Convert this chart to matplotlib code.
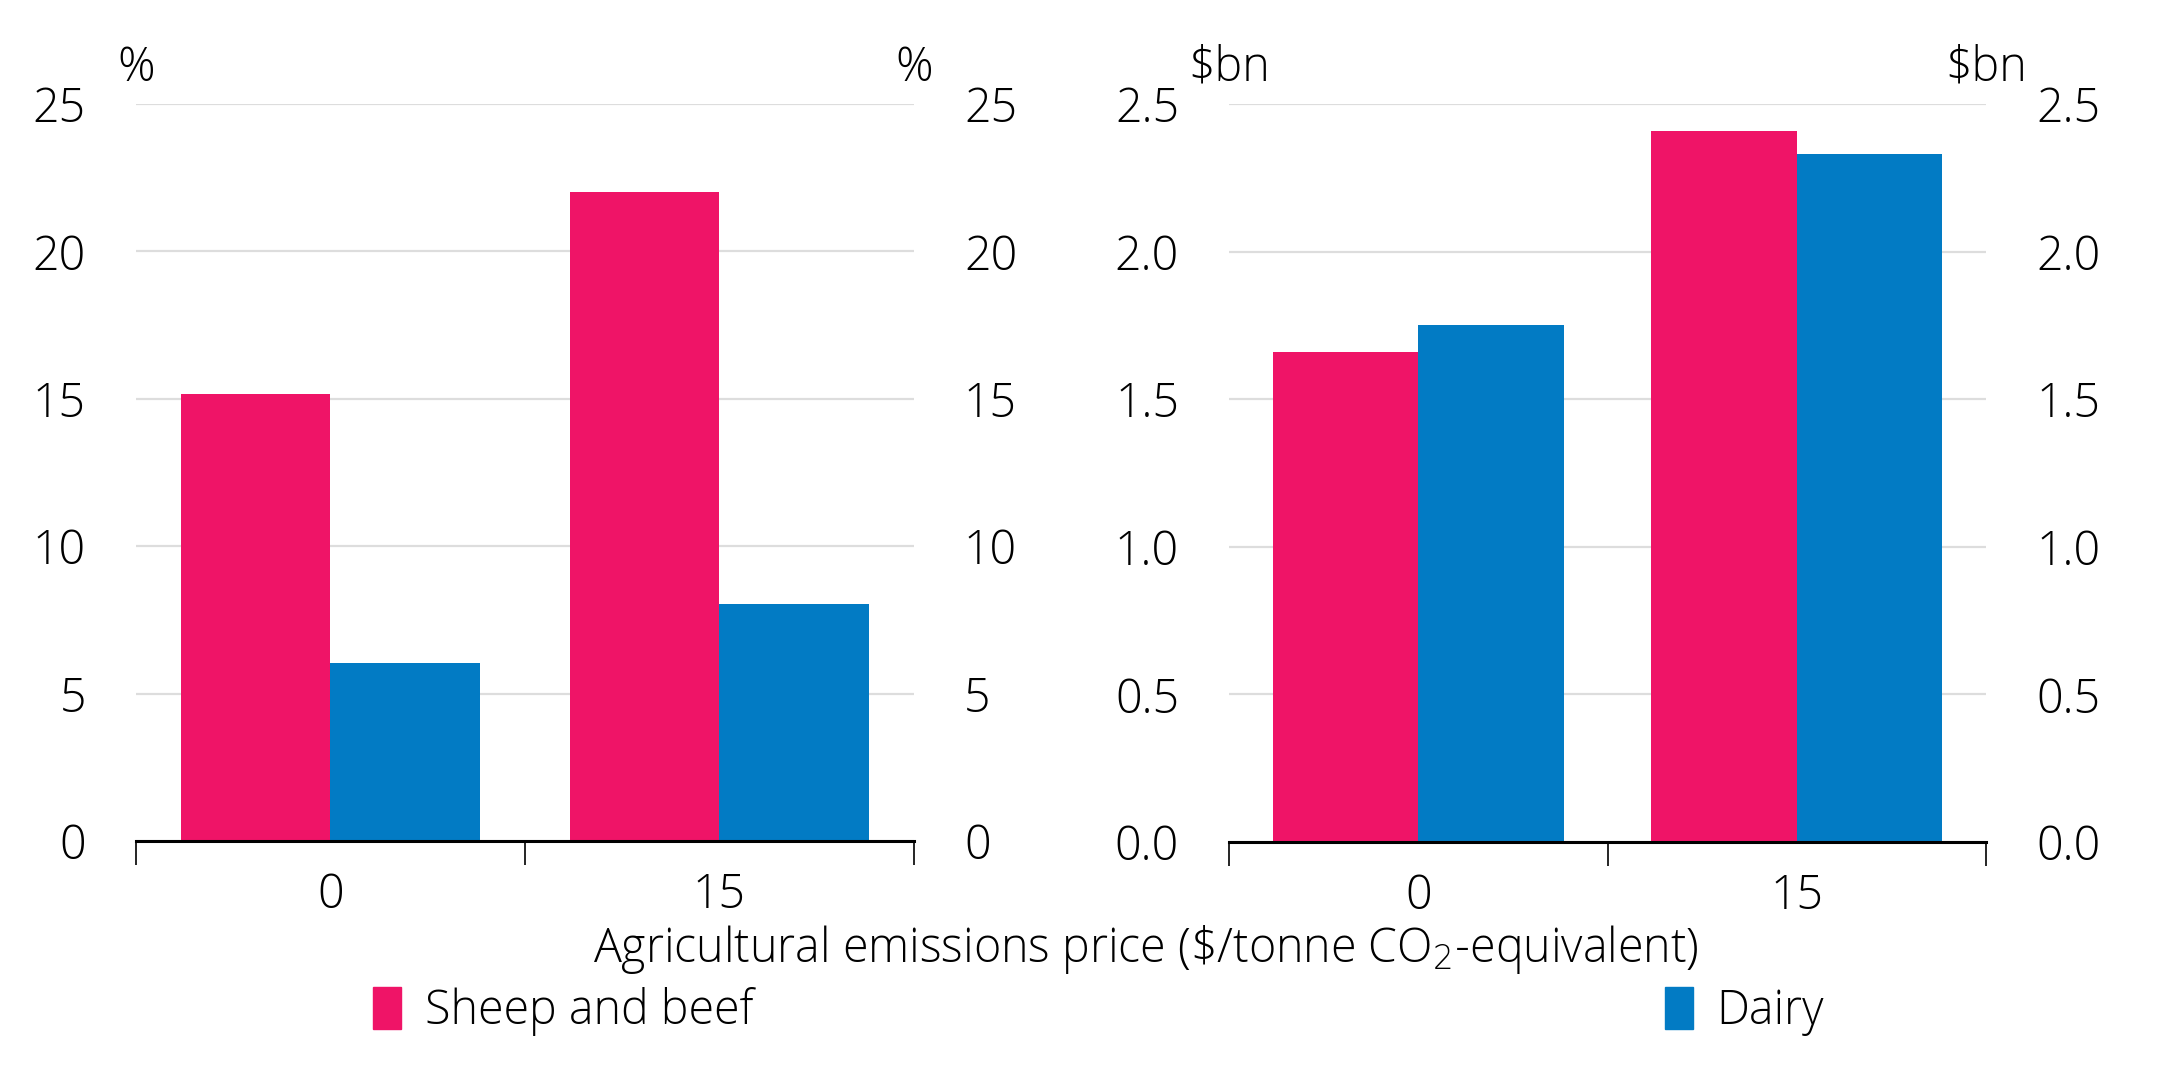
import matplotlib

matplotlib.use("Agg")
import matplotlib.pyplot as plt
import numpy as np
from matplotlib.patches import Patch

plt.rcParams["font.family"] = ["Open Sans", "DejaVu Sans"]
plt.rcParams["font.weight"] = "light"

categories = ["0", "15"]
series = ["Sheep and beef", "Dairy"]
pct_sheep = [15.15, 22.0]
pct_dairy = [6.05, 8.05]
bn_sheep = [1.66, 2.41]
bn_dairy = [1.75, 2.33]

PINK = "#EF1467"
BLUE = "#027BC4"
FS = 33.5

fig = plt.figure(figsize=(21.75, 10.85), dpi=100)
ax1 = fig.add_axes([0.0625, 0.2249, 0.3577, 0.6793])
ax2 = fig.add_axes([0.5651, 0.2240, 0.3480, 0.6802])


def draw(ax, sheep, dairy, ymax, step, fmt, unit):
    x = np.arange(len(categories))
    w = 0.385
    ax.bar(x - w / 2, sheep, w, color=PINK, zorder=3)
    ax.bar(x + w / 2, dairy, w, color=BLUE, zorder=3)
    ax.set_xlim(-0.5, len(categories) - 0.5)
    ax.set_ylim(0, ymax)
    yt = np.arange(0, ymax + step / 2, step)
    ax.set_yticks(yt)
    ax.set_yticklabels([fmt.format(v) for v in yt])
    ax.tick_params(axis="y", length=0, pad=36, labelsize=FS, labelleft=True, labelright=True)
    # category boundaries get the tick marks, labels sit at the centres
    ax.set_xticks(np.arange(-0.5, len(categories), 1.0))
    ax.set_xticklabels([])
    ax.set_xticks(x, minor=True)
    ax.set_xticklabels(categories, minor=True)
    ax.tick_params(axis="x", which="major", length=17, width=1.2, direction="out")
    ax.tick_params(axis="x", which="minor", length=0, pad=22, labelsize=FS)
    for s in ("top", "left", "right"):
        ax.spines[s].set_visible(False)
    ax.spines["bottom"].set_linewidth(2.2)
    ax.spines["bottom"].set_zorder(4)
    ax.grid(axis="y", color="#dddddd", linewidth=1.6, zorder=0)
    ax.text(0, 1.048, unit, transform=ax.transAxes, ha="center", va="center", fontsize=FS)
    ax.text(1, 1.048, unit, transform=ax.transAxes, ha="center", va="center", fontsize=FS)


draw(ax1, pct_sheep, pct_dairy, 25, 5, "{:.0f}", "%")
draw(ax2, bn_sheep, bn_dairy, 2.5, 0.5, "{:.1f}", "$bn")

fig.text(0.527, 0.125, "Agricultural emissions price (\\$/tonne CO$_2$-equivalent)",
         ha="center", va="center", fontsize=FS)

handles = [Patch(color=PINK, label=series[0]), Patch(color=BLUE, label=series[1])]
fig.legend(handles=handles, loc="center left", bbox_to_anchor=(0.161, 0.068), ncol=2,
           frameon=False, fontsize=FS, handlelength=0.6, handleheight=1.0,
           handletextpad=0.5, columnspacing=19.6, borderpad=0)

fig.savefig("out.png", dpi=100)
